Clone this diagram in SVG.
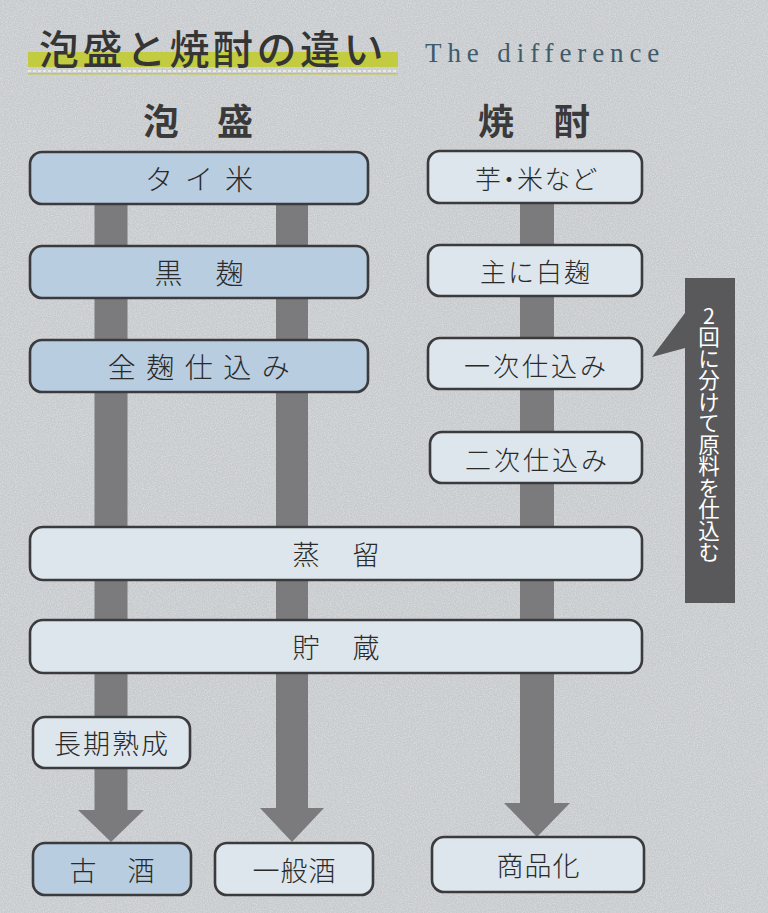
<svg xmlns="http://www.w3.org/2000/svg" width="768" height="913" viewBox="0 0 768 913">
<defs>
<filter id="grain" x="0" y="0" width="100%" height="100%">
<feTurbulence type="fractalNoise" baseFrequency="0.85" numOctaves="2" seed="3" result="n"/>
<feColorMatrix in="n" type="matrix" values="0 0 0 0 1  0 0 0 0 1  0 0 0 0 1  0 0 0 -1.6 1.05"/>
</filter>
<style>
.jp{font-family:"Noto Sans CJK JP","Noto Sans",sans-serif;}
.box{stroke:#3b3b3d;stroke-width:2.6;}
.blue{fill:#b8cde0;}
.light{fill:#dde6ec;}
.lbl{font-family:"Noto Sans CJK JP","Noto Sans",sans-serif;fill:#2a2a2a;text-anchor:middle;dominant-baseline:central;font-weight:300;}
.bar{fill:#7b7b7e;}
</style>
</defs>
<rect width="768" height="913" fill="#c7cacd"/>
<rect width="768" height="913" filter="url(#grain)" opacity="0.4"/>

<g id="title">
<rect x="28" y="52" width="370" height="15" fill="#c3cc40"/>
<line x1="28" y1="71" x2="398" y2="71" stroke="#f2f2e6" stroke-width="1.5" stroke-dasharray="3 2"/>
<rect x="28" y="73" width="370" height="1.5" fill="#c3cc40"/>
<text x="39" y="47" class="jp" font-size="40" letter-spacing="3.5" fill="#353535" font-weight="500" dominant-baseline="central">泡盛と焼酎の違い</text>
<text x="425" y="62" font-family="'Liberation Serif',serif" font-size="27" letter-spacing="5.9" fill="#3e5b6c">The difference</text>
</g>

<g id="head-awamori"><text x="143" y="119" class="jp" font-size="36" letter-spacing="38" font-weight="700" fill="#3a3a3a" dominant-baseline="central">泡盛</text></g>
<g id="head-shochu"><text x="478" y="119" class="jp" font-size="36" letter-spacing="40" font-weight="700" fill="#3a3a3a" dominant-baseline="central">焼酎</text></g>

<g id="connectors">
<path class="bar" d="M94.5 200 H127.5 V810 H144 L111 842 L78 810 H94.5 Z"/>
<path class="bar" d="M276 200 H308 V808 H324 L292 842 L260 808 H276 Z"/>
<path class="bar" d="M520 200 H554 V803 H570 L537 837 L504 803 H520 Z"/>
</g>

<g id="n-taimai"><rect class="box blue" x="30" y="152" width="338" height="52" rx="12"/><text class="lbl" x="205" y="178" font-size="28" letter-spacing="12">タイ米</text></g>
<g id="n-kurokoji"><rect class="box blue" x="30" y="246" width="338" height="52" rx="12"/><text class="lbl" x="215.5" y="272" font-size="28" letter-spacing="33">黒麹</text></g>
<g id="n-zenkoji"><rect class="box blue" x="30" y="340" width="338" height="52" rx="12"/><text class="lbl" x="204" y="366" font-size="28" letter-spacing="10.5">全麹仕込み</text></g>

<g id="n-imo"><rect class="box light" x="428" y="151" width="214" height="52" rx="12"/><text class="lbl" x="536" y="177" font-size="26" letter-spacing="1.5" style="font-feature-settings:'palt';">芋・米など</text></g>
<g id="n-shirokoji"><rect class="box light" x="428" y="245" width="214" height="51" rx="12"/><text class="lbl" x="536" y="270.5" font-size="26" letter-spacing="2">主に白麹</text></g>
<g id="n-ichiji"><rect class="box light" x="428" y="338" width="214" height="51" rx="12"/><text class="lbl" x="536.5" y="364" font-size="26" letter-spacing="3">一次仕込み</text></g>
<g id="n-niji"><rect class="box light" x="430" y="432" width="212" height="51" rx="12"/><text class="lbl" x="537.5" y="458" font-size="26" letter-spacing="3">二次仕込み</text></g>

<g id="n-callout">
<path d="M685 278 H735 V603 H685 V348 L652 357 L685 313 Z" fill="#59595b"/>
<text x="709" y="305" class="jp" font-size="21.5" fill="#ffffff" style="writing-mode:vertical-rl;text-orientation:upright;">2回に分けて原料を仕込む</text>
</g>

<g id="n-jouryu"><rect class="box light" x="30" y="527" width="612" height="53" rx="13"/><text class="lbl" x="352.5" y="553.5" font-size="27" letter-spacing="33">蒸留</text></g>
<g id="n-chozo"><rect class="box light" x="30" y="620" width="612" height="53" rx="13"/><text class="lbl" x="352.5" y="646.5" font-size="27" letter-spacing="33">貯蔵</text></g>

<g id="n-chouki"><rect class="box light" x="33" y="717" width="157" height="51" rx="12"/><text class="lbl" x="112" y="742.5" font-size="27" letter-spacing="2">長期熟成</text></g>
<g id="n-kusu"><rect class="box blue" x="33" y="843" width="158" height="52" rx="12"/><text class="lbl" x="127.5" y="869" font-size="27" letter-spacing="31">古酒</text></g>
<g id="n-ippan"><rect class="box light" x="215" y="843" width="158" height="52" rx="12"/><text class="lbl" x="294.5" y="869" font-size="27" letter-spacing="1">一般酒</text></g>
<g id="n-shohin"><rect class="box light" x="432" y="837" width="212" height="55" rx="12"/><text class="lbl" x="538.5" y="864.5" font-size="27" letter-spacing="1">商品化</text></g>
</svg>
